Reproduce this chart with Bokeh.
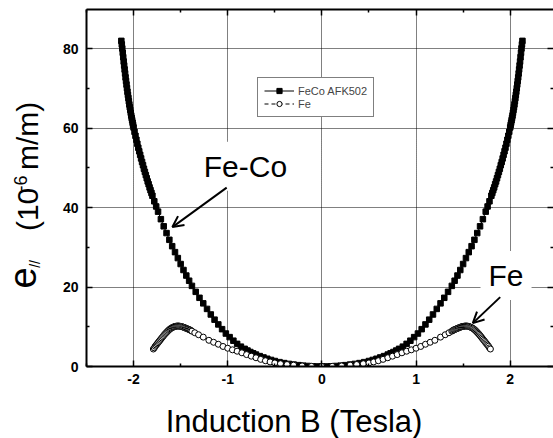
from math import pi
from bokeh.plotting import figure
from bokeh.layouts import row, column
from bokeh.models import (LinearAxis, FixedTicker, Range1d, Legend, LegendItem,
                          Label, Arrow, OpenHead, ColumnDataSource)
from bokeh.embed import file_html
from bokeh.resources import INLINE

# ---------------- data ----------------
feco_b = [-2.13, -2.125, -2.12, -2.115, -2.11, -2.105, -2.10, -2.095, -2.09, -2.085,
          -2.08, -2.075, -2.07, -2.065, -2.06, -2.055, -2.05, -2.045, -2.04, -2.035,
          -2.03, -2.025, -2.02, -2.015, -2.01, -2.005, -2.00, -1.99, -1.98, -1.97,
          -1.96, -1.95, -1.94, -1.93, -1.92, -1.91, -1.90, -1.89, -1.88, -1.87,
          -1.86, -1.85, -1.84, -1.83, -1.82, -1.81, -1.80, -1.78, -1.76, -1.74,
          -1.71, -1.68, -1.65, -1.62, -1.59, -1.56, -1.53, -1.50, -1.47, -1.44,
          -1.41, -1.38, -1.34, -1.30, -1.26, -1.22, -1.18, -1.14, -1.10, -1.06,
          -1.02, -0.98, -0.94, -0.90, -0.86, -0.82, -0.79, -0.76, -0.73, -0.70,
          -0.66, -0.62, -0.58, -0.54, -0.50, -0.45, -0.40, -0.35, -0.30, -0.25,
          -0.20, -0.15, -0.10, -0.05, 0.00,
          0.05, 0.10, 0.15, 0.20, 0.25, 0.30, 0.35, 0.40, 0.45, 0.50,
          0.54, 0.58, 0.62, 0.66, 0.70, 0.73, 0.76, 0.79, 0.82, 0.86,
          0.90, 0.94, 0.98, 1.02, 1.06, 1.10, 1.14, 1.18, 1.22, 1.26,
          1.30, 1.34, 1.38, 1.41, 1.44, 1.47, 1.50, 1.53, 1.56, 1.59,
          1.62, 1.65, 1.68, 1.71, 1.74, 1.76, 1.78, 1.80, 1.81, 1.82,
          1.83, 1.84, 1.85, 1.86, 1.87, 1.88, 1.89, 1.90, 1.91, 1.92,
          1.93, 1.94, 1.95, 1.96, 1.97, 1.98, 1.99, 2.00, 2.005, 2.01,
          2.015, 2.02, 2.025, 2.03, 2.035, 2.04, 2.045, 2.05, 2.055, 2.06,
          2.065, 2.07, 2.075, 2.08, 2.085, 2.09, 2.095, 2.10, 2.105, 2.11,
          2.115, 2.12, 2.125, 2.13]
feco_e = [82.0, 81.1, 80.1, 79.0, 77.9, 76.8, 75.8, 74.8, 73.8, 72.8,
          71.9, 71.0, 70.1, 69.2, 68.4, 67.6, 66.8, 66.0, 65.3, 64.6,
          63.9, 63.2, 62.6, 62.0, 61.4, 60.8, 60.2, 59.1, 58.1, 57.1,
          56.1, 55.1, 54.2, 53.3, 52.4, 51.5, 50.7, 49.8, 49.0, 48.2,
          47.4, 46.6, 45.9, 45.1, 44.4, 43.7, 43.0, 41.6, 40.3, 39.0,
          37.1, 35.3, 33.6, 31.9, 30.3, 28.8, 27.3, 25.8, 24.3, 22.9,
          21.6, 20.3, 18.8, 17.3, 15.9, 14.5, 13.1, 11.8, 10.6, 9.4,
          8.3, 7.4, 6.5, 5.7, 5.0, 4.45, 4.02, 3.65, 3.32, 3.00,
          2.62, 2.28, 1.95, 1.65, 1.38, 1.10, 0.86, 0.65, 0.48, 0.34,
          0.22, 0.13, 0.06, 0.02, 0.00,
          0.02, 0.06, 0.13, 0.22, 0.34, 0.48, 0.65, 0.86, 1.10, 1.38,
          1.65, 1.95, 2.28, 2.62, 3.00, 3.32, 3.65, 4.02, 4.45, 5.0,
          5.7, 6.5, 7.4, 8.3, 9.4, 10.6, 11.8, 13.1, 14.5, 15.9,
          17.3, 18.8, 20.3, 21.6, 22.9, 24.3, 25.8, 27.3, 28.8, 30.3,
          31.9, 33.6, 35.3, 37.1, 39.0, 40.3, 41.6, 43.0, 43.7, 44.4,
          45.1, 45.9, 46.6, 47.4, 48.2, 49.0, 49.8, 50.7, 51.5, 52.4,
          53.3, 54.2, 55.1, 56.1, 57.1, 58.1, 59.1, 60.2, 60.8, 61.4,
          62.0, 62.6, 63.2, 63.9, 64.6, 65.3, 66.0, 66.8, 67.6, 68.4,
          69.2, 70.1, 71.0, 71.9, 72.8, 73.8, 74.8, 75.8, 76.8, 77.9,
          79.0, 80.1, 81.1, 82.0]

fe_b = [-1.79, -1.78, -1.77, -1.76, -1.75, -1.74, -1.73, -1.72, -1.71, -1.70,
        -1.69, -1.68, -1.67, -1.66, -1.65, -1.64, -1.63, -1.62, -1.61, -1.60,
        -1.59, -1.58, -1.57, -1.56, -1.55, -1.54, -1.53, -1.52, -1.51, -1.50,
        -1.49, -1.48, -1.47, -1.46, -1.45, -1.44, -1.43, -1.42, -1.41, -1.40,
        -1.39, -1.38, -1.35, -1.31, -1.26, -1.20, -1.15, -1.10, -1.05, -1.00,
        -0.95, -0.90, -0.85, -0.80, -0.75, -0.70, -0.65, -0.60, -0.55, -0.50,
        -0.44, -0.37, -0.30, -0.21, -0.11, 0.00,
        0.11, 0.21, 0.30, 0.37, 0.44, 0.50, 0.55, 0.60, 0.65, 0.70,
        0.75, 0.80, 0.85, 0.90, 0.95, 1.00, 1.05, 1.10, 1.15, 1.20,
        1.26, 1.31, 1.35, 1.38, 1.39, 1.40, 1.41, 1.42, 1.43, 1.44,
        1.45, 1.46, 1.47, 1.48, 1.49, 1.50, 1.51, 1.52, 1.53, 1.54,
        1.55, 1.56, 1.57, 1.58, 1.59, 1.60, 1.61, 1.62, 1.63, 1.64,
        1.65, 1.66, 1.67, 1.68, 1.69, 1.70, 1.71, 1.72, 1.73, 1.74,
        1.75, 1.76, 1.77, 1.78, 1.79]
fe_e = [4.4, 4.7, 5.1, 5.4, 5.7, 6.0, 6.3, 6.6, 6.9, 7.2,
        7.5, 7.8, 8.1, 8.35, 8.6, 8.85, 9.1, 9.3, 9.5, 9.65,
        9.8, 9.9, 10.0, 10.1, 10.15, 10.18, 10.2, 10.18, 10.15, 10.1,
        10.05, 9.98, 9.9, 9.8, 9.7, 9.6, 9.5, 9.4, 9.3, 9.2,
        9.05, 8.9, 8.5, 8.0, 7.4, 6.6, 6.1, 5.6, 5.05, 4.6,
        4.2, 3.85, 3.45, 3.0, 2.6, 2.2, 1.8, 1.45, 1.15, 0.9,
        0.7, 0.5, 0.35, 0.15, 0.05, 0.0,
        0.05, 0.15, 0.35, 0.5, 0.7, 0.9, 1.15, 1.45, 1.8, 2.2,
        2.6, 3.0, 3.45, 3.85, 4.2, 4.6, 5.05, 5.6, 6.1, 6.6,
        7.4, 8.0, 8.5, 8.9, 9.05, 9.2, 9.3, 9.4, 9.5, 9.6,
        9.7, 9.8, 9.9, 9.98, 10.05, 10.1, 10.15, 10.18, 10.2, 10.18,
        10.15, 10.1, 10.0, 9.9, 9.8, 9.65, 9.5, 9.3, 9.1, 8.85,
        8.6, 8.35, 8.1, 7.8, 7.5, 7.2, 6.9, 6.6, 6.3, 6.0,
        5.7, 5.4, 5.1, 4.7, 4.4]

x_ticks = [-2, -1, 0, 1, 2]
x_tick_labels = ["-2", "-1", "0", "1", "2"]
x_minor_ticks = [-2.5, -1.5, -0.5, 0.5, 1.5, 2.5]
y_ticks = [0, 20, 40, 60, 80]
y_tick_labels = ["0", "20", "40", "60", "80"]
y_minor_ticks = [10, 30, 50, 70, 90]

series_names = ["FeCo AFK502", "Fe"]
x_title = "Induction B (Tesla)"
y_title_parts = ["e", "//", "(10", "-6", "m/m)"]
fe_co_note = "Fe-Co"
fe_note = "Fe"

FONT = "Liberation Sans"

# ---------------- main figure ----------------
p = figure(width=503, height=398, output_backend="svg", toolbar_location=None,
           x_range=Range1d(-2.5, 2.46), y_range=Range1d(0, 89.9),
           min_border_left=36, min_border_right=0, min_border_top=9,
           min_border_bottom=32)
p.outline_line_color = None
p.background_fill_color = "white"
p.border_fill_color = "white"


def style_axis(ax, ticks, minor, labels, show_labels=True, line=True):
    ax.ticker = FixedTicker(ticks=ticks, minor_ticks=minor)
    ax.axis_line_width = 2
    ax.axis_line_color = "black" if line else None
    ax.major_tick_in = 6
    ax.major_tick_out = 0
    ax.minor_tick_in = 3
    ax.minor_tick_out = 0
    ax.major_tick_line_width = 1.5
    ax.minor_tick_line_width = 1.5
    ax.major_tick_line_color = "black"
    ax.minor_tick_line_color = "black"
    if show_labels:
        ax.major_label_overrides = {t: s for t, s in zip(ticks, labels)}
        ax.major_label_text_font = FONT
        ax.major_label_text_font_style = "bold"
        ax.major_label_text_font_size = "14px"
        ax.major_label_text_color = "black"
    else:
        ax.major_label_text_color = None
        ax.major_label_text_font_size = "1px"
        ax.major_label_standoff = 0


xa = p.xaxis[0]
ya = p.yaxis[0]
style_axis(xa, x_ticks, x_minor_ticks, x_tick_labels)
xa.major_label_standoff = 7
style_axis(ya, y_ticks, y_minor_ticks, y_tick_labels)
ya.major_label_standoff = 8

top_ax = LinearAxis()
style_axis(top_ax, x_ticks, x_minor_ticks, x_tick_labels, show_labels=False)
p.add_layout(top_ax, "above")
right_ax = LinearAxis()
style_axis(right_ax, y_ticks, y_minor_ticks, y_tick_labels, show_labels=False, line=False)
p.add_layout(right_ax, "right")

for g, t in ((p.xgrid[0], x_ticks), (p.ygrid[0], y_ticks)):
    g.ticker = FixedTicker(ticks=t)
    g.grid_line_color = "black"
    g.grid_line_dash = "1 1"
    g.grid_line_width = 1

# ---------------- series ----------------
src_feco = ColumnDataSource(dict(b=feco_b, e=feco_e))
src_fe = ColumnDataSource(dict(b=fe_b, e=fe_e))

feco_line = p.line("b", "e", source=src_feco, line_color="black", line_width=1)
feco_pts = p.scatter("b", "e", source=src_feco, marker="square", size=5.5,
                     fill_color="black", line_color="black")
fe_line = p.line("b", "e", source=src_fe, line_color="black", line_width=1,
                 line_dash="4 3")
fe_pts = p.scatter("b", "e", source=src_fe, marker="circle", size=6,
                   fill_color="white", line_color="black", line_width=1)

legend = Legend(items=[LegendItem(label=series_names[0], renderers=[feco_line, feco_pts]),
                       LegendItem(label=series_names[1], renderers=[fe_line, fe_pts])],
                location=(171, 249), orientation="vertical")
legend.border_line_color = "black"
legend.border_line_width = 1
legend.background_fill_color = "white"
legend.background_fill_alpha = 1
legend.padding = 6
legend.spacing = 0
legend.margin = 0
legend.glyph_width = 30
legend.glyph_height = 13
legend.label_height = 13
legend.label_standoff = 4
legend.label_text_font = FONT
legend.label_text_font_size = "11px"
legend.label_text_baseline = "middle"
p.add_layout(legend, "center")


def add_label(fig, text, x, y, size, angle=0.0, align="left", bg=None, pad=0):
    lab = Label(x=x, y=y, text=text, text_font=FONT, text_font_size=f"{size}px",
                angle=angle, text_align=align, text_baseline="middle",
                text_color="black")
    if bg is not None:
        lab.background_fill_color = bg
        lab.background_fill_alpha = 1
        lab.padding = pad
    fig.add_layout(lab)
    return lab


add_label(p, fe_co_note, -1.340, 50.4, 30, bg="white", pad=8)
add_label(p, fe_note, 1.685, 22.9, 30, bg="white", pad=8)

p.add_layout(Arrow(end=OpenHead(size=11, line_width=2, line_color="black"),
                   x_start=-1.011, y_start=45.05, x_end=-1.588, y_end=35.11,
                   line_width=2, line_color="black"))
p.add_layout(Arrow(end=OpenHead(size=11, line_width=2, line_color="black"),
                   x_start=1.894, y_start=17.47, x_end=1.603, y_end=10.92,
                   line_width=2, line_color="black"))


# ---------------- side panels for the axis titles ----------------
def blank_fig(w, h):
    f = figure(width=w, height=h, output_backend="svg", toolbar_location=None,
               x_range=Range1d(0, w), y_range=Range1d(0, h),
               x_axis_location=None, y_axis_location=None,
               min_border=0, min_border_left=0, min_border_right=0,
               min_border_top=0, min_border_bottom=0)
    f.grid.visible = False
    f.outline_line_color = None
    f.background_fill_color = "white"
    f.border_fill_color = "white"
    return f


yfig = blank_fig(50, 398)
add_label(yfig, y_title_parts[0], 21.8, 87, 38, angle=pi / 2)
add_label(yfig, y_title_parts[1], 34.2, 110, 14, angle=pi / 2)
add_label(yfig, y_title_parts[2], 26.6, 151, 30, angle=pi / 2)
add_label(yfig, y_title_parts[3], 19.8, 195, 18, angle=pi / 2)
add_label(yfig, y_title_parts[4], 26.6, 219, 30, angle=pi / 2)

xfig = blank_fig(553, 40)
add_label(xfig, x_title, 293.5, 17.5, 31, align="center")

layout = column(row(yfig, p, spacing=0), xfig, spacing=0)

open("out.html", "w").write(file_html(layout, INLINE))
